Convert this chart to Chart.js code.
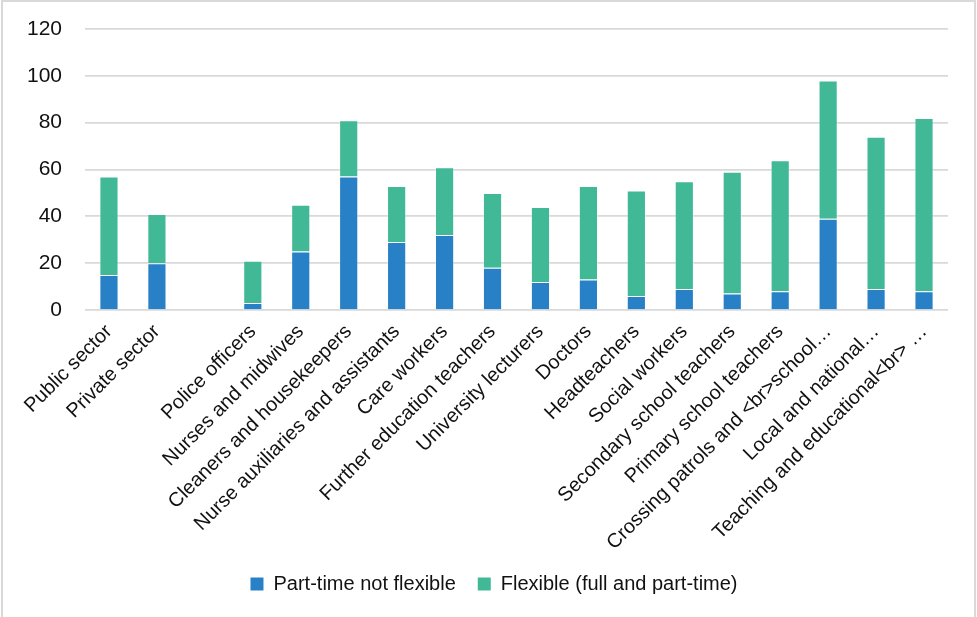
<!DOCTYPE html>
<html>
<head>
<meta charset="utf-8">
<script src="https://cdn.jsdelivr.net/npm/chart.js@4/dist/chart.umd.min.js"></script>
<style>
  html, body { margin: 0; padding: 0; background: #fff; }
  #wrap { position: relative; width: 977px; height: 617px; }
  #wrap::after {
    content: ""; position: absolute; left: 1px; top: 0; right: 1px; bottom: -2px;
    border: 2px solid #d9d9d9; pointer-events: none;
  }
</style>
</head>
<body>
<div id="wrap"><canvas id="chart" width="977" height="617"></canvas></div>
<script>
// categories (blank slot between the sector totals and the occupations)
const categories = [
    "Public sector",
    "Private sector",
    "",
    "Police officers",
    "Nurses and midwives",
    "Cleaners and housekeepers",
    "Nurse auxiliaries and assistants",
    "Care workers",
    "Further education teachers",
    "University lecturers",
    "Doctors",
    "Headteachers",
    "Social workers",
    "Secondary school teachers",
    "Primary school teachers",
    "Crossing patrols and <br>school…",
    "Local and national…",
    "Teaching and educational<br> …",
];

const partTimeNotFlexible = [15, 20, null, 3, 25, 57, 29, 32, 18, 12, 13, 6, 9, 7, 8, 39, 9, 8];
const flexible = [42, 21, null, 18, 20, 24, 24, 29, 32, 32, 40, 45, 46, 52, 56, 59, 65, 74];

const yTicks = [0, 20, 40, 60, 80, 100, 120];

const font = '"Liberation Sans", Arial, sans-serif';
const textColor = "#111";

const config = {
    type: "bar",
    data: {
        labels: categories,
        datasets: [
            {
                label: "Part-time not flexible",
                data: partTimeNotFlexible,
                backgroundColor: "#2881c6",
                borderColor: "rgba(255,255,255,0.35)",
                borderWidth: 1,
                barPercentage: 0.4,
                categoryPercentage: 1,
            },
            {
                label: "Flexible (full and part-time)",
                data: flexible,
                backgroundColor: "#42b996",
                borderColor: "rgba(255,255,255,0.35)",
                borderWidth: 1,
                barPercentage: 0.4,
                categoryPercentage: 1,
            },
        ],
    },
    options: {
        responsive: false,
        animation: false,
        // negative right padding + empty right axis: pushes the centred legend right
        layout: { padding: { left: 0, right: -11, top: 29, bottom: 13 } },
        plugins: {
            legend: {
                position: "bottom",
                labels: {
                    boxWidth: 13,
                    boxHeight: 13,
                    padding: 22,
                    color: textColor,
                    font: { family: font, size: 20 },
                    generateLabels: (chart) =>
                        Chart.defaults.plugins.legend.labels.generateLabels(chart).map((item) => ({
                            ...item,
                            lineWidth: 0,
                        })),
                },
            },
            tooltip: { enabled: false },
        },
        scales: {
            x: {
                stacked: true,
                grid: { display: false },
                border: { display: false },
                ticks: {
                    autoSkip: false,
                    minRotation: 45,
                    maxRotation: 45,
                    padding: 2,
                    color: textColor,
                    font: { family: font, size: 20 },
                },
                afterFit: (scale) => { scale.height = 242; },
            },
            y: {
                stacked: true,
                min: 0,
                max: 120,
                afterBuildTicks: (scale) => { scale.ticks = yTicks.map((v) => ({ value: v })); },
                grid: { color: "#d9d9d9", lineWidth: 1.7, drawTicks: false },
                border: { display: false },
                ticks: {
                    padding: 23,
                    color: textColor,
                    font: { family: font, size: 21 },
                },
                afterFit: (scale) => {
                    scale.width = 85;
                    // tick padding would otherwise push the plot top down
                    scale.paddingTop = 0;
                    scale.paddingBottom = 0;
                },
            },
            spacer: {
                position: "right",
                display: true,
                grid: { display: false },
                border: { display: false },
                ticks: { display: false },
                afterFit: (scale) => { scale.width = 40; },
            },
        },
    },
};

const chart = new Chart(document.getElementById("chart"), config);
</script>
</body>
</html>
